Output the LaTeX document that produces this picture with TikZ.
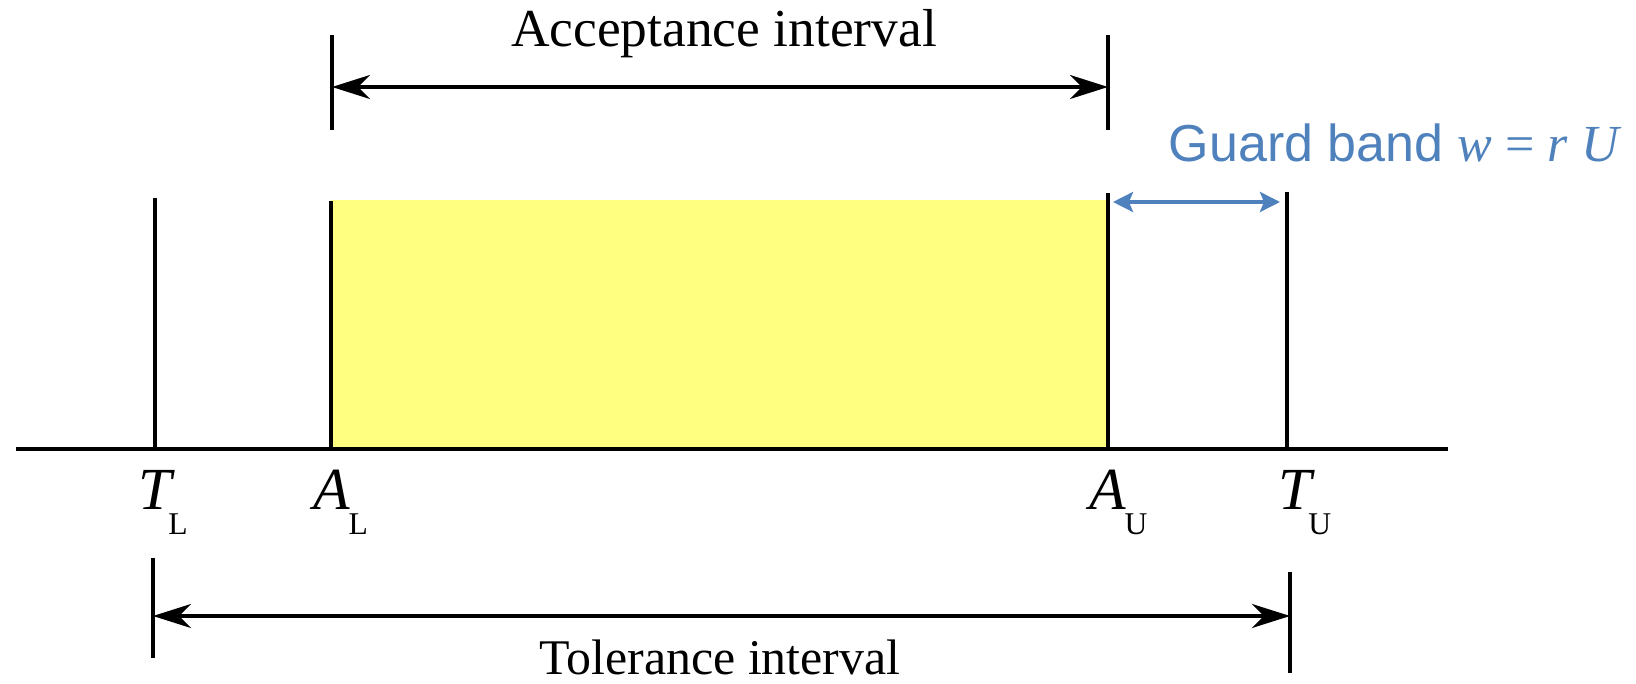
\documentclass[tikz,border=0pt]{standalone}
\usepackage{fontspec}
\setmainfont{Liberation Serif}
\newfontfamily\guardfont{Liberation Sans}
\usetikzlibrary{arrows.meta}

\definecolor{bandblue}{RGB}{79,129,189}
\definecolor{acceptyellow}{RGB}{255,255,128}

\tikzset{
  limline/.style={line width=0.9pt},
  dimarrow/.style={line width=0.9pt, {Stealth[length=3.8mm,width=2.4mm,inset=1.2mm]}-{Stealth[length=3.8mm,width=2.4mm,inset=1.2mm]}},
  bandarrow/.style={draw=bandblue, line width=1pt, {Stealth[length=2mm,width=2mm,inset=0.4mm]}-{Stealth[length=2mm,width=2mm,inset=0.4mm]}},
  limlabel/.style={anchor=base west, inner sep=0pt}
}
% letter, subscript, kern between them
\newcommand{\limtext}[3]{\fontsize{17}{17}\selectfont\textit{#1}\kern#3\raisebox{-7pt}{\fontsize{9}{9}\selectfont #2}}

\begin{document}
\begin{tikzpicture}
      \useasboundingbox (0,0) rectangle (16.36,6.84);

      % Points on the axis for the four limits
      \coordinate (axisL) at (0.16,2.35);
      \coordinate (axisR) at (14.48,2.35);
      \coordinate (TL) at (1.55,2.35);
      \coordinate (AL) at (3.31,2.35);
      \coordinate (AU) at (11.08,2.35);
      \coordinate (TU) at (12.87,2.35);
      \coordinate (TLtop) at (1.55,4.86);
      \coordinate (ALtop) at (3.31,4.83);
      \coordinate (AUtop) at (11.08,4.91);
      \coordinate (TUtop) at (12.87,4.92);

      % Yellow acceptance zone
      \fill[acceptyellow] (AL) rectangle (11.08,4.84);

      % Limit lines and axis
      \draw[limline] (TL) -- (TLtop);
      \draw[limline] (AL) -- (ALtop);
      \draw[limline] (AU) -- (AUtop);
      \draw[limline] (TU) -- (TUtop);
      \draw[line width=1.1pt] (axisL) -- (axisR);

      % Acceptance interval on top
      \coordinate (accL) at (3.32,5.97);
      \coordinate (accR) at (11.08,5.97);
      \draw[limline] ([yshift=0.52cm]accL) -- ([yshift=-0.43cm]accL);
      \draw[limline] ([yshift=0.52cm]accR) -- ([yshift=-0.43cm]accR);
      \draw[dimarrow] (accL) -- (accR);
      \node[anchor=base, inner sep=0pt, font=\fontsize{15.2}{15.2}\selectfont] (acctext) at (7.24,6.37) {Acceptance interval};

      % Tolerance interval at the bottom
      \coordinate (tolL) at (1.53,0.68);
      \coordinate (tolR) at (12.90,0.68);
      \draw[limline] ([yshift=0.58cm]tolL) -- ([yshift=-0.42cm]tolL);
      \draw[limline] ([yshift=0.44cm]tolR) -- ([yshift=-0.57cm]tolR);
      \draw[dimarrow] (tolL) -- (tolR);
      \node[anchor=base, inner sep=0pt, font=\fontsize{14.2}{14.2}\selectfont] (toltext) at (7.20,0.09) {Tolerance interval};

      % Guard band between A_U and T_U
      \coordinate (guardL) at (11.13,4.82);
      \coordinate (guardR) at (12.80,4.82);
      \draw[bandarrow] (guardL) -- (guardR);
      \node[anchor=base west, inner sep=0pt, text=bandblue, font=\guardfont\fontsize{14.8}{14.8}\selectfont] (guardtext) at (11.68,5.22) {Guard band {\rmfamily\itshape w \upshape= \itshape r U}};

      % Limit labels under the axis
      \node[limlabel] (TLlabel) at ([xshift=-0.17cm,yshift=-0.61cm]TL) {\limtext{T}{L}{-2pt}};
      \node[limlabel] (ALlabel) at ([xshift=-0.18cm,yshift=-0.61cm]AL) {\limtext{A}{L}{-0.5pt}};
      \node[limlabel] (AUlabel) at ([xshift=-0.19cm,yshift=-0.61cm]AU) {\limtext{A}{U}{-0.5pt}};
      \node[limlabel] (TUlabel) at ([xshift=-0.09cm,yshift=-0.61cm]TU) {\limtext{T}{U}{-2pt}};
    \end{tikzpicture}
\end{document}
